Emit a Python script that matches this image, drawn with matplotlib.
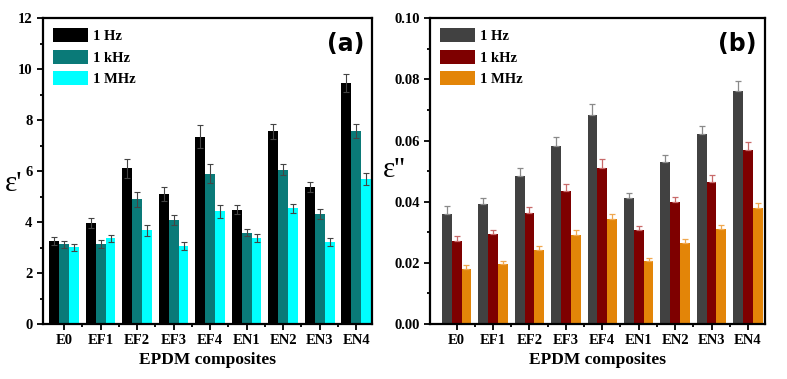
import matplotlib.pyplot as plt
import numpy as np
from matplotlib.ticker import MultipleLocator

# samples and frequencies
samples = ["E0", "EF1", "EF2", "EF3", "EF4", "EN1", "EN2", "EN3", "EN4"]
freqs = ["1 Hz", "1 kHz", "1 MHz"]

# real permittivity (a)
eps1_hz = [3.26, 3.95, 6.11, 5.10, 7.34, 4.49, 7.56, 5.39, 9.46]
eps1_khz = [3.13, 3.14, 4.89, 4.08, 5.89, 3.59, 6.06, 4.31, 7.56]
eps1_mhz = [3.01, 3.36, 3.68, 3.06, 4.42, 3.39, 4.54, 3.23, 5.69]
eps1_hz_err = [0.15, 0.20, 0.38, 0.27, 0.45, 0.18, 0.30, 0.20, 0.37]
eps1_khz_err = [0.13, 0.14, 0.30, 0.20, 0.37, 0.14, 0.22, 0.20, 0.27]
eps1_mhz_err = [0.15, 0.15, 0.22, 0.14, 0.25, 0.16, 0.17, 0.15, 0.22]

# imaginary permittivity (b)
eps2_hz = [0.0361, 0.0393, 0.0484, 0.0581, 0.0683, 0.0411, 0.0531, 0.0621, 0.0762]
eps2_khz = [0.0270, 0.0295, 0.0364, 0.0435, 0.0511, 0.0308, 0.0399, 0.0466, 0.0570]
eps2_mhz = [0.0180, 0.0197, 0.0243, 0.0290, 0.0342, 0.0205, 0.0266, 0.0311, 0.0381]
eps2_hz_err = [0.0026, 0.0020, 0.0027, 0.0030, 0.0035, 0.0019, 0.0022, 0.0028, 0.0034]
eps2_khz_err = [0.0019, 0.0014, 0.0019, 0.0023, 0.0027, 0.0014, 0.0017, 0.0022, 0.0026]
eps2_mhz_err = [0.0013, 0.0010, 0.0011, 0.0016, 0.0019, 0.0010, 0.0012, 0.0013, 0.0016]

serif = "Liberation Serif"
x = np.arange(len(samples))
w = 0.27

fig = plt.figure(figsize=(7.87, 3.79), dpi=100)
ax1 = fig.add_axes([0.0546, 0.145, 0.418, 0.807])
ax2 = fig.add_axes([0.5464, 0.145, 0.4257, 0.807])


def style_axis(ax):
    for s in ax.spines.values():
        s.set_linewidth(1.6)
    ax.tick_params(which="both", direction="out", top=False, right=False, width=1.3)
    ax.tick_params(which="major", length=4)
    ax.tick_params(which="minor", length=2.5)
    ax.set_xticks(x)
    ax.set_xticks(x[:-1] + 0.5, minor=True)
    ax.set_xticklabels(samples)
    for lab in ax.get_xticklabels() + ax.get_yticklabels():
        lab.set_fontfamily(serif)
        lab.set_fontweight("bold")
        lab.set_fontsize(10.5)
    ax.set_xlabel("EPDM composites", fontfamily=serif, fontweight="bold", fontsize=12.5, labelpad=3)


# panel (a)
cols_a = ["#000000", "#0a7a78", "#00ffff"]
vals_a = [eps1_hz, eps1_khz, eps1_mhz]
errs_a = [eps1_hz_err, eps1_khz_err, eps1_mhz_err]
for i in range(3):
    ax1.bar(x + (i - 1) * w, vals_a[i], w, color=cols_a[i], label=freqs[i],
            yerr=errs_a[i], capsize=2,
            error_kw=dict(ecolor="#444444", elinewidth=0.8, capthick=0.8))
ax1.set_xlim(-0.58, 8.43)
ax1.set_ylim(0, 12)
ax1.yaxis.set_major_locator(MultipleLocator(2))
ax1.yaxis.set_minor_locator(MultipleLocator(1))
style_axis(ax1)
fig.text(14 / 787, 1 - 184 / 379, "ε'", fontsize=21, ha="center", va="center", family=serif)
ax1.text(0.92, 0.915, "(a)", transform=ax1.transAxes, ha="center", va="center",
         fontsize=17, fontweight="bold", family="DejaVu Sans")
ax1.legend(loc="upper left", frameon=False, prop=dict(family=serif, weight="bold", size=10.5),
           handlelength=2.4, handleheight=1.1, handletextpad=0.3, labelspacing=0.45,
           borderaxespad=0.3)

# panel (b)
cols_b = ["#414141", "#7e0000", "#e38508"]
ecols_b = ["#8a8a8a", "#c86a6a", "#f0a850"]
vals_b = [eps2_hz, eps2_khz, eps2_mhz]
errs_b = [eps2_hz_err, eps2_khz_err, eps2_mhz_err]
for i in range(3):
    ax2.bar(x + (i - 1) * w, vals_b[i], w, color=cols_b[i], label=freqs[i],
            yerr=[np.zeros(len(samples)), errs_b[i]], capsize=2,
            error_kw=dict(ecolor=ecols_b[i], elinewidth=0.9, capthick=0.9))
ax2.set_xlim(-0.73, 8.47)
ax2.set_ylim(0, 0.10)
ax2.yaxis.set_major_locator(MultipleLocator(0.02))
ax2.yaxis.set_minor_locator(MultipleLocator(0.01))
ax2.set_yticks(np.arange(0, 0.101, 0.02))
ax2.set_yticklabels(["0.00", "0.02", "0.04", "0.06", "0.08", "0.10"])
style_axis(ax2)
fig.text(394 / 787, 1 - 170 / 379, "ε''", fontsize=21, ha="center", va="center", family=serif)
ax2.text(0.916, 0.915, "(b)", transform=ax2.transAxes, ha="center", va="center",
         fontsize=17, fontweight="bold", family="DejaVu Sans")
ax2.legend(loc="upper left", frameon=False, prop=dict(family=serif, weight="bold", size=10.5),
           handlelength=2.4, handleheight=1.1, handletextpad=0.3, labelspacing=0.45,
           borderaxespad=0.3)

fig.savefig("out.png", dpi=100)
